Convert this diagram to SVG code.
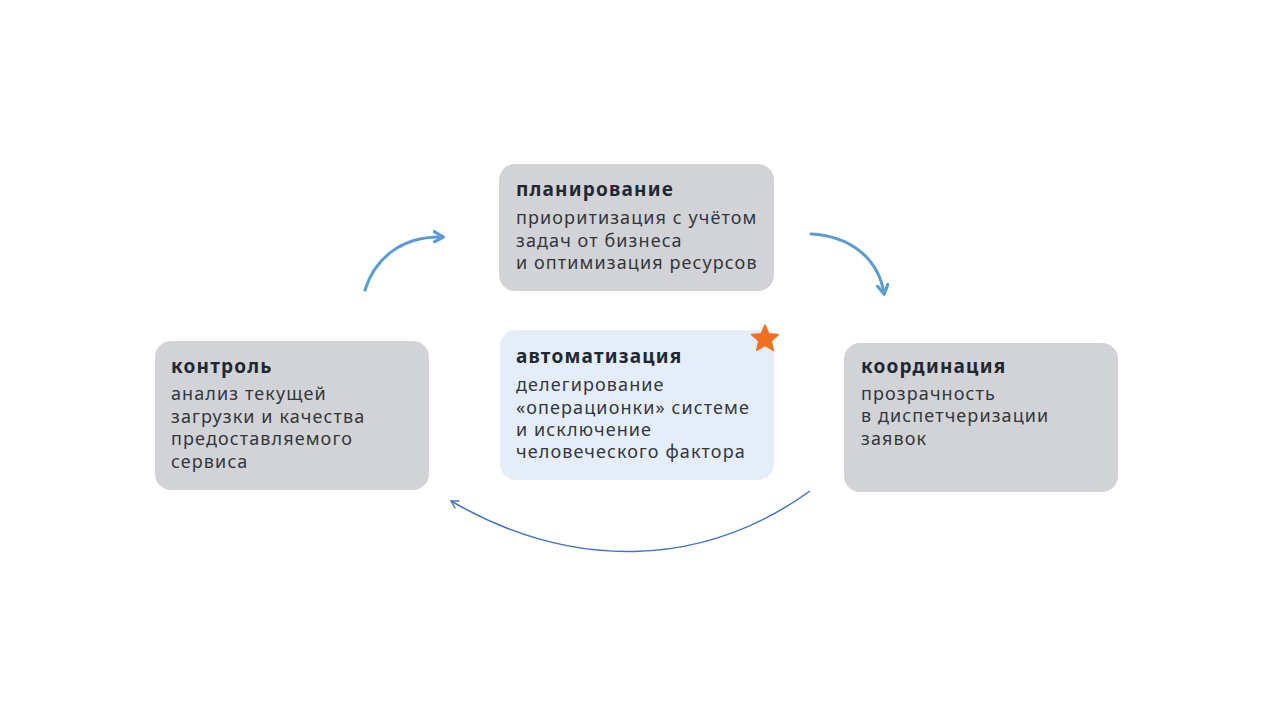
<svg xmlns="http://www.w3.org/2000/svg" width="1280" height="720" viewBox="0 0 1280 720">
<defs>
<style>
.box{fill:#d2d3d6}
.auto{fill:#e5eef8}
.t{font-family:"Noto Sans","DejaVu Sans",sans-serif;font-weight:700;font-size:19px;letter-spacing:1.2px;fill:#1f2833}
.b{font-family:"Noto Sans","DejaVu Sans",sans-serif;font-size:18px;letter-spacing:1.1px;fill:#33373c}
.thick{fill:none;stroke:#5b9bd5;stroke-width:3;stroke-linecap:round}
.thin{fill:none;stroke:#4472c4;stroke-width:1.5}
</style>
<marker id="ah" viewBox="0 0 10 10" refX="7" refY="5" markerWidth="4.4" markerHeight="4.4" orient="auto" markerUnits="strokeWidth">
<path d="M1,1 L8,5 L1,9" fill="none" stroke="#5b9bd5" stroke-width="2.4" stroke-linecap="round" stroke-linejoin="round"/>
</marker>
<marker id="ah2" viewBox="0 0 10 10" refX="8" refY="5" markerWidth="7" markerHeight="7" orient="auto" markerUnits="strokeWidth">
<path d="M1,1 L8,5 L1,9" fill="none" stroke="#4472c4" stroke-width="1.3"/>
</marker>
</defs>
<rect width="1280" height="720" fill="#ffffff"/>
<g id="connectors">
<path class="thick" d="M365,290 C375,258 402,236 442,237" marker-end="url(#ah)"/>
<path class="thick" d="M811,234 C850,236 878,258 884,293" marker-end="url(#ah)"/>
<path class="thin" d="M810,491 C700,570 570,570 451,501" marker-end="url(#ah2)"/>
</g>
<g id="planning">
<rect class="box" x="499" y="164" width="275" height="127" rx="16"/>
<text class="t" x="516" y="196">планирование</text>
<text class="b" x="516" y="224">приоритизация с учётом</text>
<text class="b" x="516" y="247">задач от бизнеса</text>
<text class="b" x="516" y="269">и оптимизация ресурсов</text>
</g>
<g id="automation">
<rect class="auto" x="500" y="330" width="274" height="150" rx="16"/>
<text class="t" x="516" y="363">автоматизация</text>
<text class="b" x="516" y="391">делегирование</text>
<text class="b" x="516" y="414">«операционки» системе</text>
<text class="b" x="516" y="436">и исключение</text>
<text class="b" x="516" y="458">человеческого фактора</text>
<path d="M765,325 L768.8,333.8 L778.3,334.6 L771.1,341 L773.3,350.4 L765,345.4 L756.7,350.4 L758.9,341 L751.7,334.6 L761.2,333.8 Z" fill="#f26f21" stroke="#f26f21" stroke-width="1.5" stroke-linejoin="round"/>
</g>
<g id="control">
<rect class="box" x="155" y="341" width="274" height="149" rx="16"/>
<text class="t" x="171" y="373">контроль</text>
<text class="b" x="171" y="400">анализ текущей</text>
<text class="b" x="171" y="423">загрузки и качества</text>
<text class="b" x="171" y="445">предоставляемого</text>
<text class="b" x="171" y="468">сервиса</text>
</g>
<g id="coordination">
<rect class="box" x="844" y="343" width="274" height="149" rx="16"/>
<text class="t" x="861" y="373">координация</text>
<text class="b" x="861" y="400">прозрачность</text>
<text class="b" x="861" y="422">в диспетчеризации</text>
<text class="b" x="861" y="445">заявок</text>
</g>
</svg>
